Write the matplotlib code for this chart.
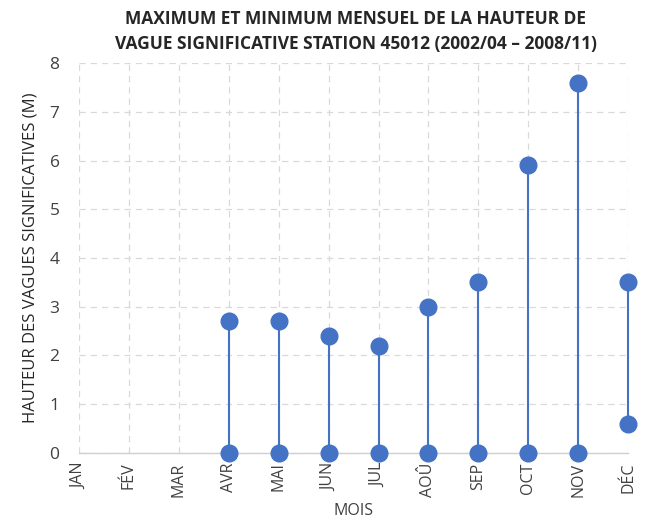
import numpy as np
import matplotlib
matplotlib.use("Agg")
import matplotlib.pyplot as plt

plt.rcParams['font.family'] = ['Open Sans', 'DejaVu Sans']

mois = ['JAN', 'FÉV', 'MAR', 'AVR', 'MAI', 'JUN', 'JUL', 'AOÛ', 'SEP', 'OCT', 'NOV', 'DÉC']
maximum = [np.nan, np.nan, np.nan, 2.7, 2.7, 2.4, 2.2, 3.0, 3.5, 5.9, 7.6, 3.5]
minimum = [np.nan, np.nan, np.nan, 0.0, 0.0, 0.0, 0.0, 0.0, 0.0, 0.0, 0.0, 0.6]

bleu = '#4472C4'
gris = '#404040'

fig = plt.figure(figsize=(6.53, 5.26), dpi=100)
ax = fig.add_axes([0.121, 0.139, 0.841, 0.741])

x = np.arange(len(mois))
for xi, lo, hi in zip(x, minimum, maximum):
    if np.isnan(hi):
        continue
    ax.plot([xi, xi], [lo, hi], color=bleu, lw=1.5, zorder=3, clip_on=False)
ax.plot(x, maximum, 'o', color=bleu, ms=12, zorder=4, clip_on=False)
ax.plot(x, minimum, 'o', color=bleu, ms=12, zorder=4, clip_on=False)

ax.set_xlim(0, 11)
ax.set_ylim(0, 8)
ax.set_xticks(x)
ax.set_xticklabels(mois, rotation=90, fontsize=11.5, color=gris)
ax.set_yticks(range(0, 9))
ax.tick_params(axis='y', labelsize=12.5, colors=gris, length=0, pad=14)
ax.tick_params(axis='x', length=0, pad=7)

ax.grid(True, color='#D9D9D9', linestyle=(0, (5, 4)), lw=0.9)
ax.set_axisbelow(True)
for s in ['top', 'right', 'left']:
    ax.spines[s].set_visible(False)
ax.spines['bottom'].set_color('#D0D0D0')
ax.spines['bottom'].set_linewidth(1.0)

ax.set_xlabel('MOIS', fontsize=11.5, color=gris, labelpad=4)
ax.set_ylabel('HAUTEUR DES VAGUES SIGNIFICATIVES (M)', fontsize=12, color='#262626', labelpad=8)

fig.text(0.545, 0.94, 'MAXIMUM ET MINIMUM MENSUEL DE LA HAUTEUR DE\nVAGUE SIGNIFICATIVE STATION 45012 (2002/04 – 2008/11)',
         ha='center', va='center', fontsize=12.5, fontweight='bold', color='#262626', linespacing=1.45)

fig.savefig('out.png', dpi=100)
